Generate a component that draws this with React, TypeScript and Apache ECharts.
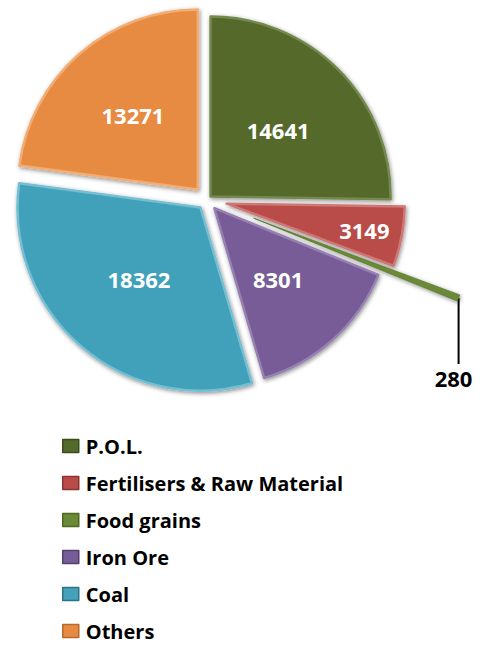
import React, { useEffect, useRef } from "react";
import * as echarts from "echarts";

// Cargo categories and tonnages
const categories = ["P.O.L.", "Fertilisers & Raw Material", "Food grains", "Iron Ore", "Coal", "Others"];
const values = [14641, 3149, 280, 8301, 18362, 13271];

// Slice colours: fill, light bevel edge, darker rim (legend)
const fills = ["#546a2b", "#b94c49", "#6b8a35", "#775c97", "#43a1ba", "#e78b42"];
const edges = ["#74894f", "#cf7774", "#8aa85a", "#9681b0", "#74bfd2", "#f2ad74"];
const rims = ["#3b4c1d", "#8a3432", "#4e6a22", "#54406d", "#2d7386", "#b8682a"];

// Per-slice layout: how far each slice is pulled out, its radius, and where its label sits
const explode = [5, 20, 50, 11, 10, 14];
const radii = [180, 178, 220, 177, 183, 180];
const labelAt = [0.51, 0.77, 0, 0.52, 0.5, 0.53];

const CX = 207;
const CY = 200;
const FONT = "Open Sans";

export default function App() {
  const ref = useRef<HTMLDivElement>(null);

  useEffect(() => {
    if (!ref.current) return;
    const chart = echarts.init(ref.current, null, { renderer: "svg" });

    const total = values.reduce((a, b) => a + b, 0);
    const series: any[] = [];
    let acc = 0;

    values.forEach((v, i) => {
      // bisector, measured clockwise from 12 o'clock
      const mid = ((acc + v / 2) / total) * Math.PI * 2;
      acc += v;
      const cx = CX + explode[i] * Math.sin(mid);
      const cy = CY - explode[i] * Math.cos(mid);

      const isFood = i === 2;
      const data = categories.map((name, j) => ({
        name,
        value: values[j],
        itemStyle:
          j === i
            ? {
                color: fills[j],
                borderColor: isFood ? rims[j] : edges[j],
                borderWidth: isFood ? 0.6 : 2.5,
                borderJoin: "round",
                shadowBlur: 4,
                shadowColor: "rgba(0,0,0,0.45)",
                shadowOffsetX: 1,
                shadowOffsetY: 1.5,
              }
            : { color: "rgba(0,0,0,0)", borderWidth: 0 },
        label: { show: isFood && j === i },
        labelLine: { show: isFood && j === i },
      }));

      series.push({
        type: "pie",
        name: categories[i],
        center: [cx, cy],
        radius: [0, radii[i]],
        startAngle: 90,
        clockwise: true,
        silent: true,
        avoidLabelOverlap: false,
        emphasis: { disabled: true },
        label: {
          position: "outside",
          color: "#000",
          fontFamily: FONT,
          fontWeight: "bold",
          fontSize: 22,
          formatter: "{c}",
        },
        labelLine: { lineStyle: { color: "#000", width: 2 } },
        labelLayout: isFood
          ? (p: any) => {
              const p0 = p.labelLinePoints ? p.labelLinePoints[0] : [0, 0];
              return {
                x: p0[0] - 5,
                y: p0[1] + 80,
                align: "center",
                verticalAlign: "middle",
                labelLinePoints: [p0, [p0[0], p0[1] + 66], [p0[0], p0[1] + 66]],
              };
            }
          : undefined,
        data,
      });

      if (!isFood) {
        const L = labelAt[i] * radii[i];
        series.push({
          type: "pie",
          center: [cx, cy],
          radius: [L - 0.5, L + 0.5],
          startAngle: 90,
          clockwise: true,
          silent: true,
          avoidLabelOverlap: false,
          emphasis: { disabled: true },
          label: {
            position: "inside",
            color: "#fff",
            fontFamily: FONT,
            fontWeight: "bold",
            fontSize: 22,
            formatter: "{c}",
          },
          labelLine: { show: false },
          data: categories.map((name, j) => ({
            name,
            value: values[j],
            itemStyle: { color: "rgba(0,0,0,0)" },
            label: { show: j === i },
          })),
        });
      }
    });

    chart.setOption({
      animation: false,
      backgroundColor: "#fff",
      legend: {
        orient: "vertical",
        left: 62,
        top: 436,
        height: 260,
        padding: 0,
        itemWidth: 16,
        itemHeight: 13,
        itemGap: 17,
        icon: "rect",
        selectedMode: false,
        textStyle: {
          fontFamily: FONT,
          fontWeight: "bold",
          fontSize: 20,
          color: "#000",
          padding: [0, 0, 0, 2],
        },
        data: categories.map((name, i) => ({
          name,
          itemStyle: { color: fills[i], borderColor: rims[i], borderWidth: 1.5 },
        })),
      },
      series,
    });

    return () => chart.dispose();
  }, []);

  return (
    <div
      ref={ref}
      style={{ position: "fixed", left: 0, top: 0, width: 480, height: 645 }}
    />
  );
}
